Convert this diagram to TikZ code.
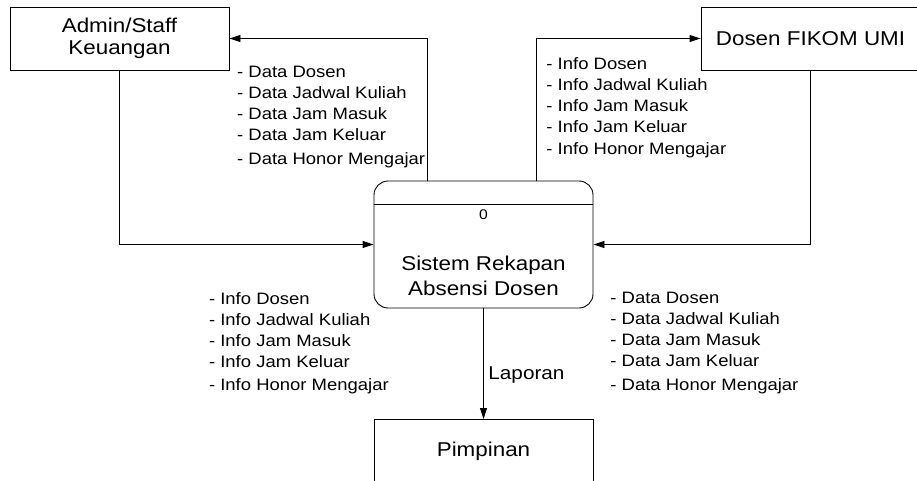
\documentclass[tikz,border=0pt]{standalone}
\usepackage{fontspec}
\setmainfont{Liberation Sans}
\newfontfamily\dfdfont[FakeStretch=1.12]{Liberation Sans}
\usetikzlibrary{arrows.meta}

\begin{document}
\begin{tikzpicture}[x=1pt, y=-1pt, >={Triangle[length=11pt,width=7pt]}, line width=0.9pt,
    entity/.style={draw, rectangle, minimum width=219pt, minimum height=63pt, inner sep=0pt,
      align=center, font=\dfdfont\fontsize{20}{22}\selectfont},
    proc/.style={draw, rectangle, rounded corners=14pt, minimum width=219pt, minimum height=127pt},
    flowlbl/.style={anchor=north west, inner sep=0pt, align=left,
      font=\dfdfont\fontsize{16.5}{21}\selectfont}]

    % Fix the page size
    \useasboundingbox (0,0) rectangle (917,481);
    \clip (0,0) rectangle (917,481);

    % Define the external entities
    \node[entity] (admin) at (119.5,38.5) {Admin/Staff\\Keuangan};
    \node[entity] (dosen) at (810.5,38.5) {Dosen FIKOM UMI};
    \node[entity] (pimp) at (483.5,451) {Pimpinan};

    % Define the process in the middle
    \node[proc] (proc) at (483.5,244.5) {};
    \draw ([yshift=-24pt]proc.north west) -- ([yshift=-24pt]proc.north east);
    \node[inner sep=0pt, font=\dfdfont\fontsize{14}{16}\selectfont] (pnum) at (483.5,215) {0};
    \node[inner sep=0pt, align=center, font=\dfdfont\fontsize{20}{24.5}\selectfont] (pname) at (483.5,276)
      {Sistem Rekapan\\Absensi Dosen};

    % Define the flow labels
    \node[flowlbl] (dataA) at (236.7,66) {- Data Dosen\\- Data Jadwal Kuliah\\- Data Jam Masuk\\- Data Jam Keluar\\[2.5pt]- Data Honor Mengajar};
    \node[flowlbl] (infoD) at (546,57) {- Info Dosen\\- Info Jadwal Kuliah\\- Info Jam Masuk\\- Info Jam Keluar\\[1pt]- Info Honor Mengajar};
    \node[flowlbl] (infoA) at (208.6,292) {- Info Dosen\\- Info Jadwal Kuliah\\- Info Jam Masuk\\- Info Jam Keluar\\[2.5pt]- Info Honor Mengajar};
    \node[flowlbl] (dataD) at (610,292) {- Data Dosen\\- Data Jadwal Kuliah\\- Data Jam Masuk\\- Data Jam Keluar\\[2.5pt]- Data Honor Mengajar};
    \node[anchor=west, inner sep=0pt, font=\dfdfont\fontsize{18.5}{20}\selectfont] (lap) at (488,375) {Laporan};

    % Draw arrows from the process to the entities
    \draw[->] ([xshift=-56.5pt]proc.north) |- (admin.east);
    \draw[->] ([xshift=53pt]proc.north) |- (dosen.west);
    \draw[->] (proc.south) -- (pimp.north);

    % Draw arrows from the entities to the process
    \draw[->] (admin.south) |- (proc.west);
    \draw[->] (dosen.south) |- (proc.east);

\end{tikzpicture}
\end{document}
